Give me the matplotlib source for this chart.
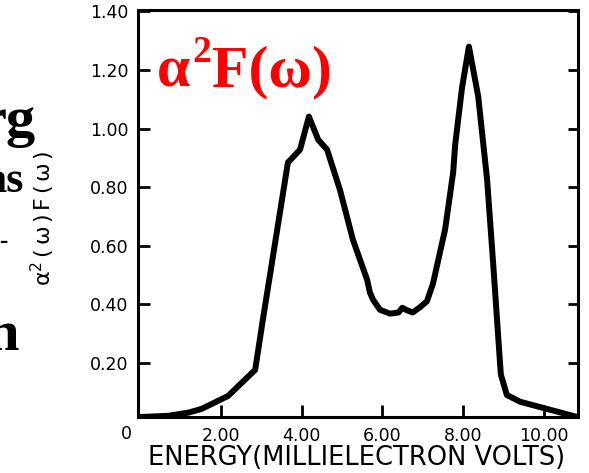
import matplotlib
matplotlib.use("Agg")
import matplotlib.pyplot as plt

energy = [0.0, 0.7, 1.2, 1.53, 2.18, 2.85, 3.04, 3.66, 3.96, 4.18, 4.41, 4.63,
          4.95, 5.27, 5.62, 5.69, 5.77, 5.94, 6.19, 6.40, 6.49, 6.60, 6.75,
          6.93, 7.10, 7.25, 7.55, 7.75, 7.80, 7.97, 8.14, 8.37, 8.59, 8.74,
          8.86, 8.93, 9.08, 9.41, 9.98, 10.82]
a2f = [0.015, 0.019, 0.03, 0.043, 0.087, 0.176, 0.347, 0.884, 0.928, 1.041,
       0.962, 0.928, 0.79, 0.62, 0.484, 0.44, 0.415, 0.381, 0.368, 0.372,
       0.388, 0.38, 0.372, 0.39, 0.41, 0.47, 0.655, 0.85, 0.945, 1.14, 1.28,
       1.11, 0.826, 0.54, 0.30, 0.16, 0.09, 0.067, 0.046, 0.015]

x_ticks = [2, 4, 6, 8, 10]
x_labels = ["2.00", "4.00", "6.00", "8.00", "10.00"]
y_ticks = [0.2, 0.4, 0.6, 0.8, 1.0, 1.2, 1.4]
y_labels = ["0.20", "0.40", "0.60", "0.80", "1.00", "1.20", "1.40"]

W, H = 589, 473


def fx(x):
    return x / W


def fy(y):
    return 1 - y / H


plt.rcParams["mathtext.fontset"] = "dejavusans"
plt.rcParams["mathtext.default"] = "regular"

fig = plt.figure(figsize=(5.89, 4.73), dpi=100)
ax = fig.add_axes([fx(138), fy(417), fx(578) - fx(138), fy(10) - fy(417)])

ax.plot(energy, a2f, color="black", lw=4.3,
        solid_joinstyle="round", solid_capstyle="round")

ax.set_xlim(-0.05, 10.84)
ax.set_ylim(0.015, 1.405)

for s in ax.spines.values():
    s.set_linewidth(2.2)

ax.set_xticks(x_ticks)
ax.set_xticklabels(x_labels)
ax.set_yticks(y_ticks)
ax.set_yticklabels(y_labels)
ax.tick_params(direction="in", length=8.6, width=2, labelsize=12.5, pad=7)
ax.tick_params(axis="y", right=True)
for t in ax.yaxis.get_major_ticks():
    t.tick2line.set_markersize(7)

fig.text(fx(126), fy(433.5), "0", fontsize=12.5, ha="center", va="center")
fig.text(fx(357), fy(458), "ENERGY(MILLIELECTRON VOLTS)", fontsize=18.5,
         ha="center", va="center")
fig.text(fx(43), fy(218),
         r"$\alpha^{2}\,(\,\omega\,)\,F\,(\,\omega\,)$",
         fontsize=16, rotation=90, ha="center", va="center")

# red annotation, built from pieces so the superscript sits like the slide
red = dict(color="red", family="Liberation Serif", weight="bold")
renderer = fig.canvas.get_renderer()
t1 = fig.text(fx(157), fy(86), "α", fontsize=43, ha="left", va="baseline", **red)
bb = t1.get_window_extent(renderer)
t2 = fig.text(bb.x1 / W + 0.004, fy(62), "2", fontsize=27,
              ha="left", va="baseline", **red)
bb2 = t2.get_window_extent(renderer)
fig.text(bb2.x1 / W + 0.001, fy(86), "F(ω)", fontsize=43,
         ha="left", va="baseline", **red)

# clipped slide text at the left edge
blk = dict(color="black", family="Liberation Serif", weight="bold")
fig.text(fx(36), fy(136), "rg", fontsize=42, ha="right", va="baseline", **blk)
fig.text(fx(24), fy(192), "as", fontsize=32, ha="right", va="baseline", **blk)
fig.text(fx(7), fy(248), "-", fontsize=18, ha="right", va="baseline", **blk)
fig.text(fx(19), fy(350), "n", fontsize=42, ha="right", va="baseline", **blk)

fig.savefig("out.png", dpi=100)
